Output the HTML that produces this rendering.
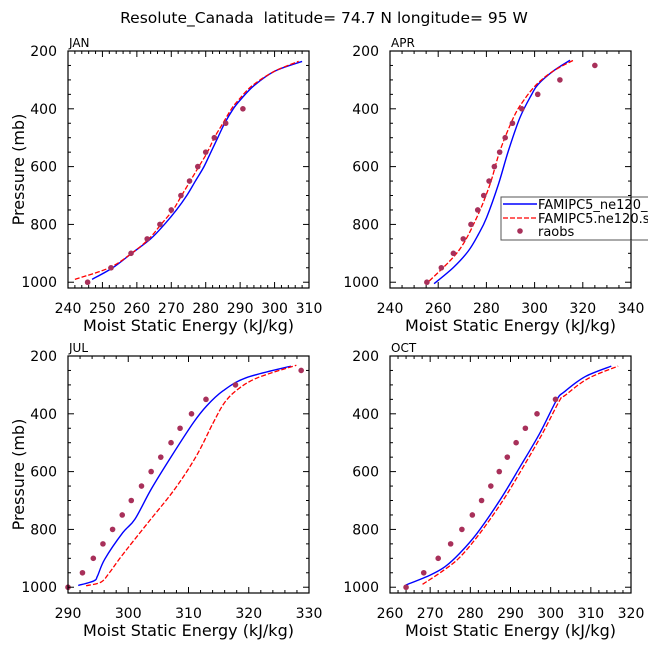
<!DOCTYPE html>
<html><head><meta charset="utf-8"><style>
body{margin:0;background:#fff;}
svg{display:block;font-family:"DejaVu Sans","Liberation Sans",sans-serif;}
</style></head><body>
<svg id="c" width="648" height="649" viewBox="0 0 648 649">
<text x="324" y="23" font-size="15.5" text-anchor="middle" xml:space="preserve" style="white-space:pre">Resolute_Canada  latitude= 74.7 N longitude= 95 W</text>
</svg>
<script>
const obsP = [1000,950,900,850,800,750,700,650,600,550,500,450,400,350,300,250];
const janObs = [245.7,252.5,258.3,263,266.7,270,272.8,275.3,277.7,280,282.5,285.8,290.8];
const janBlueP = [990,950,900,850,800,750,700,650,600,550,500,450,400,370,320,270,236];
const janBlue = [247,253,258.5,264,268,271.5,274.5,277,279.5,281.5,283.5,285.5,288,290,294,300,308];
const janRedP = [990,950,900,850,800,750,700,650,600,550,500,450,400,370,320,270,236];
const janRed = [242,252,258.5,263.5,267,270.5,273,275.5,278,280.5,282.5,285,287.5,289.5,293.5,300,307];
const aprObs = [255.3,261.3,266.3,270.4,273.6,276.4,278.9,281.1,283.3,285.5,287.8,290.8,294.7,301.3,310.5,325];
const aprBlueP = [1005,949,892,834,776,661,546,431,350,315,269,232];
const aprBlue = [258.3,266.3,272.5,276.7,280.1,285,289.1,293.9,298.8,301.5,307.8,314.7];
const aprRedP = [996,892,776,661,546,431,373,315,269,232];
const aprRed = [256.3,268.4,276,281.5,285.6,291.2,295.3,300.9,307.8,316.1];
const julObs = [290,292.4,294.2,295.8,297.4,299,300.5,302.2,303.8,305.4,307.1,308.6,310.5,312.9,317.8,328.7];
const julBlueP = [994,978,961,903,811,765,661,546,431,373,321,275,235];
const julBlue = [291.7,294.3,294.9,296.1,299.1,301.1,303.8,307.2,310.8,313,315.7,319.6,327];
const julRedP = [995,982,949,892,776,661,546,431,361,315,275,232];
const julRed = [293,295.5,296.9,298.9,303.3,307.7,311.3,314.1,316,318.2,321.5,327.9];
const octObs = [264,268.4,272,275.1,277.9,280.5,282.8,285.1,287.2,289.2,291.4,293.7,296.6,301.2];
const octBlueP = [992,958,929,882,813,698,583,467,352,324,272,235];
const octBlue = [264,270,273.7,277.4,281.7,287.4,292.4,297.3,301.5,303.4,308.5,315.1];
const octRedP = [990,942,896,813,698,583,467,352,336,278,235];
const octRed = [268.1,273.3,277.4,282.4,288.2,293.2,298,302.3,303.6,309.3,316.8];
const xTicks = {jan:[240,250,260,270,280,290,300,310],apr:[240,260,280,300,320,340],jul:[290,300,310,320,330],oct:[260,270,280,290,300,310,320]};
const yTicks = [200,400,600,800,1000];

const NS="http://www.w3.org/2000/svg";
const svg=document.getElementById('c');
function mk(tag,attrs,parent){const e=document.createElementNS(NS,tag);for(const k in attrs)e.setAttribute(k,attrs[k]);(parent||svg).appendChild(e);return e;}
function smooth(pts){
 let d='M'+pts[0][0]+','+pts[0][1];
 for(let i=0;i<pts.length-1;i++){
  const p0=pts[Math.max(0,i-1)],p1=pts[i],p2=pts[i+1],p3=pts[Math.min(pts.length-1,i+2)];
  const c1=[p1[0]+(p2[0]-p0[0])/6,p1[1]+(p2[1]-p0[1])/6];
  const c2=[p2[0]-(p3[0]-p1[0])/6,p2[1]-(p3[1]-p1[1])/6];
  d+=' C'+c1[0]+','+c1[1]+' '+c2[0]+','+c2[1]+' '+p2[0]+','+p2[1];
 }
 return d;
}

const panels=[
 {id:'jan',label:'JAN',x0:68,y0:51,xmin:240,xmax:310,minor:2,obs:janObs,blue:janBlue,blueP:janBlueP,red:janRed,redP:janRedP,ylab:true},
 {id:'apr',label:'APR',x0:390,y0:51,xmin:240,xmax:340,minor:5,obs:aprObs,blue:aprBlue,blueP:aprBlueP,red:aprRed,redP:aprRedP,ylab:false,legend:true},
 {id:'jul',label:'JUL',x0:68,y0:356,xmin:290,xmax:330,minor:2,obs:julObs,blue:julBlue,blueP:julBlueP,red:julRed,redP:julRedP,ylab:true},
 {id:'oct',label:'OCT',x0:390,y0:356,xmin:260,xmax:320,minor:2,obs:octObs,blue:octBlue,blueP:octBlueP,red:octRed,redP:octRedP,ylab:false}
];
const W=241,H=237,PMIN=200,PMAX=1020;
panels.forEach(pn=>{
 const g=mk('g',{});
 
 
 const xs=v=>pn.x0+(v-pn.xmin)/(pn.xmax-pn.xmin)*W;
 const ys=p=>pn.y0+(p-PMIN)/(PMAX-PMIN)*H;
 const bl=mk('path',{d:smooth(pn.blue.map((v,i)=>[xs(v),ys(pn.blueP[i])])),fill:'none',stroke:'#0000ff','stroke-width':1.4},g);
 
 
 const rl=mk('path',{d:smooth(pn.red.map((v,i)=>[xs(v),ys(pn.redP[i])])),fill:'none',stroke:'#ff0000','stroke-width':1.3,'stroke-dasharray':'5,2'},g);
 
 
 pn.obs.forEach((v,i)=>{
  const c=mk('circle',{cx:xs(v),cy:ys(obsP[i]),r:2.8,fill:'#a8305a'},g);
  
  
 });
 const fr=mk('rect',{x:pn.x0,y:pn.y0,width:W,height:H,fill:'none',stroke:'#000','stroke-width':1.2},g);
 
 
 for(let v=pn.xmin;v<=pn.xmax+1e-6;v+=pn.minor){
  const maj=xTicks[pn.id].includes(v);const L=maj?6:3;const x=xs(v);
  mk('line',{x1:x,y1:pn.y0+H,x2:x,y2:pn.y0+H-L,stroke:'#000'},g);
  mk('line',{x1:x,y1:pn.y0,x2:x,y2:pn.y0+L,stroke:'#000'},g);
 }
 xTicks[pn.id].forEach(v=>{
  const t=mk('text',{x:xs(v),y:pn.y0+H+25,'font-size':14,'text-anchor':'middle'},g);t.textContent=v;
  
  
 });
 for(let p=200;p<=1000;p+=50){
  const maj=yTicks.includes(p);const L=maj?6:3;const y=ys(p);
  mk('line',{x1:pn.x0,y1:y,x2:pn.x0+L,y2:y,stroke:'#000'},g);
  mk('line',{x1:pn.x0+W,y1:y,x2:pn.x0+W-L,y2:y,stroke:'#000'},g);
 }
 yTicks.forEach(p=>{
  const t=mk('text',{x:pn.x0-11,y:ys(p)+5,'font-size':14,'text-anchor':'end'},g);t.textContent=p;
  
  
 });
 const lb=mk('text',{x:pn.x0+1,y:pn.y0-4,'font-size':12},g);lb.textContent=pn.label;
 
 
 const xt=mk('text',{x:pn.x0+W/2,y:pn.y0+H+43,'font-size':16,'text-anchor':'middle'},g);xt.textContent='Moist Static Energy (kJ/kg)';
 
 
 if(pn.ylab){
  const yt=mk('text',{x:0,y:0,'font-size':16,'text-anchor':'middle',transform:'translate(24,'+(pn.y0+H/2)+') rotate(-90)'},g);yt.textContent='Pressure (mb)';
  
  
 }
 if(pn.legend){
  const lg=mk('g',{},g);
  
  
  mk('rect',{x:501,y:197,width:150,height:43,fill:'#fff',stroke:'#555'},lg);
  mk('line',{x1:503,y1:204,x2:537,y2:204,stroke:'#0000ff','stroke-width':1.4},lg);
  mk('line',{x1:503,y1:218,x2:537,y2:218,stroke:'#ff0000','stroke-width':1.3,'stroke-dasharray':'5,2'},lg);
  mk('circle',{cx:520,cy:231,r:2.8,fill:'#a8305a'},lg);
  [['FAMIPC5_ne120_',209],['FAMIPC5.ne120.s',223],['raobs',236]].forEach(a=>{
   const t=mk('text',{x:538,y:a[1],'font-size':13},lg);t.textContent=a[0];
   
   
  });
  mk('line',{x1:pn.x0+W,y1:197,x2:pn.x0+W,y2:240,stroke:'#000','stroke-width':1.2},lg);
 }
});
</script>
</body></html>
